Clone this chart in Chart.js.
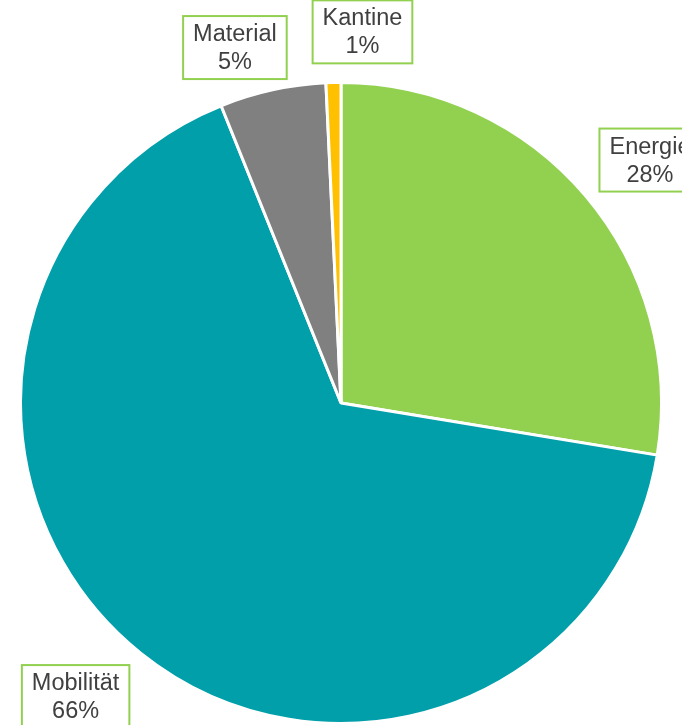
<!DOCTYPE html>
<html>
<head>
<meta charset="utf-8">
<script src="https://cdn.jsdelivr.net/npm/chart.js@4/dist/chart.umd.min.js"></script>
<style>
  html, body { margin: 0; padding: 0; background: #fff; overflow: hidden; }
  canvas { display: block; }
</style>
</head>
<body>
<canvas id="chart" width="682" height="725"></canvas>
<script>
const categories = ['Energie', 'Mobilität', 'Material', 'Kantine'];
const shares = [27.6, 66.3, 5.35, 0.75];
const sliceColors = ['#92D050', '#009FAA', '#808080', '#FFC000'];

// label box centres, relative to pie centre in units of radius
const labelOffsets = [[0.964, -0.758], [-0.828, 0.916], [-0.331, -1.109], [0.067, -1.158]];

const calloutPlugin = {
  id: 'callouts',
  afterDatasetsDraw(chart) {
    const ctx = chart.ctx;
    const meta = chart.getDatasetMeta(0);
    const total = shares.reduce((a, b) => a + b, 0);
    ctx.save();
    ctx.font = '23.5px "Liberation Sans", Arial, sans-serif';
    ctx.textAlign = 'center';
    ctx.textBaseline = 'middle';
    meta.data.forEach((arc, i) => {
      const r = arc.outerRadius;
      const cx = arc.x + labelOffsets[i][0] * r;
      const cy = arc.y + labelOffsets[i][1] * r;
      const pct = Math.round(shares[i] / total * 100) + '%';
      const w = Math.max(ctx.measureText(categories[i]).width, ctx.measureText(pct).width) + 20;
      const h = 63;
      ctx.fillStyle = '#fff';
      ctx.fillRect(cx - w / 2, cy - h / 2, w, h);
      ctx.strokeStyle = '#92D050';
      ctx.lineWidth = 2;
      ctx.strokeRect(cx - w / 2, cy - h / 2, w, h);
      ctx.fillStyle = '#404040';
      ctx.fillText(categories[i], cx, cy - 13);
      ctx.fillText(pct, cx, cy + 15);
    });
    ctx.restore();
  }
};

new Chart(document.getElementById('chart').getContext('2d'), {
  type: 'pie',
  data: {
    labels: categories,
    datasets: [{
      data: shares,
      backgroundColor: sliceColors,
      borderColor: '#ffffff',
      borderWidth: 3
    }]
  },
  options: {
    responsive: false,
    animation: false,
    layout: { padding: { top: 81, bottom: 0, left: 0, right: 0 } },
    plugins: {
      legend: { display: false },
      tooltip: { enabled: false }
    }
  },
  plugins: [calloutPlugin]
});
</script>
</body>
</html>
